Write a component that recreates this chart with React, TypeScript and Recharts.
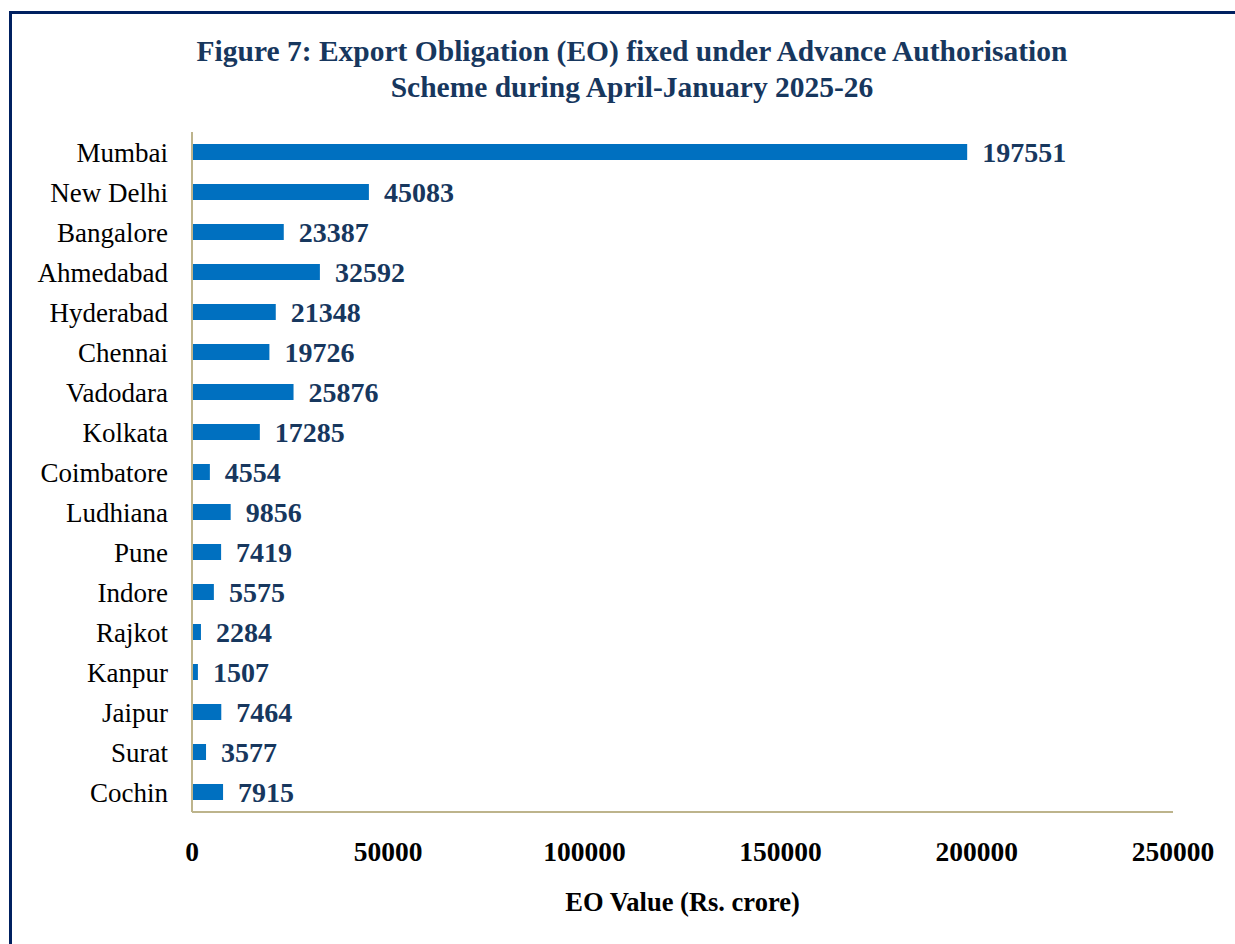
import { BarChart, Bar, XAxis, YAxis, LabelList } from "recharts"

const offices = [
  "Mumbai",
  "New Delhi",
  "Bangalore",
  "Ahmedabad",
  "Hyderabad",
  "Chennai",
  "Vadodara",
  "Kolkata",
  "Coimbatore",
  "Ludhiana",
  "Pune",
  "Indore",
  "Rajkot",
  "Kanpur",
  "Jaipur",
  "Surat",
  "Cochin",
]

const eoValues = [
  197551, 45083, 23387, 32592, 21348, 19726, 25876, 17285, 4554, 9856, 7419,
  5575, 2284, 1507, 7464, 3577, 7915,
]

const xTicks = [0, 50000, 100000, 150000, 200000, 250000]

const data = offices.map((office, i) => ({ office, value: eoValues[i] }))

const SERIF = "'Liberation Serif', 'Times New Roman', serif"
const NAVY = "#17375E"
const AXIS_COLOR = "#BDB48C"

export default function App() {
  return (
    <div
      style={{
        position: "absolute",
        top: 0,
        left: 0,
        width: 1235,
        height: 944,
        background: "#fff",
        overflow: "hidden",
        fontFamily: SERIF,
      }}
    >
      {/* frame, only top and left edges visible */}
      <div
        style={{
          position: "absolute",
          left: 9,
          top: 11,
          width: 1400,
          height: 1100,
          borderTop: "3px solid #002060",
          borderLeft: "3px solid #002060",
        }}
      />
      <div
        style={{
          position: "absolute",
          left: 132,
          top: 33,
          width: 1000,
          textAlign: "center",
          color: NAVY,
          fontWeight: "bold",
          fontSize: 29.5,
          lineHeight: "36px",
        }}
      >
        Figure 7: Export Obligation (EO) fixed under Advance Authorisation
        <br />
        Scheme during April-January 2025-26
      </div>
      <div style={{ position: "absolute", left: 0, top: 0 }}>
        <BarChart
          width={1235}
          height={944}
          data={data}
          layout="vertical"
          margin={{ top: 132, right: 62, bottom: 12, left: 0 }}
          barCategoryGap={0}
        >
          <XAxis
            type="number"
            domain={[0, 250000]}
            ticks={xTicks}
            height={120}
            axisLine={{ stroke: AXIS_COLOR, strokeWidth: 2 }}
            tickLine={false}
            tickSize={0}
            tickMargin={29}
            interval={0}
            tick={{ fill: "#000", fontSize: 27.5, fontWeight: "bold", fontFamily: SERIF }}
            label={{
              value: "EO Value (Rs. crore)",
              position: "insideBottom",
              offset: 21,
              fill: "#000",
              fontSize: 26.5,
              fontWeight: "bold",
              fontFamily: SERIF,
            }}
          />
          <YAxis
            type="category"
            dataKey="office"
            width={192}
            axisLine={{ stroke: AXIS_COLOR, strokeWidth: 2 }}
            tickLine={false}
            tickSize={0}
            tickMargin={24}
            interval={0}
            tick={{ fill: "#000", fontSize: 27, fontFamily: SERIF }}
          />
          <Bar dataKey="value" fill="#0070C0" barSize={16} isAnimationActive={false}>
            <LabelList
              dataKey="value"
              position="right"
              offset={15}
              fill={NAVY}
              fontSize={28}
              fontWeight="bold"
              fontFamily={SERIF}
            />
          </Bar>
        </BarChart>
      </div>
    </div>
  )
}
